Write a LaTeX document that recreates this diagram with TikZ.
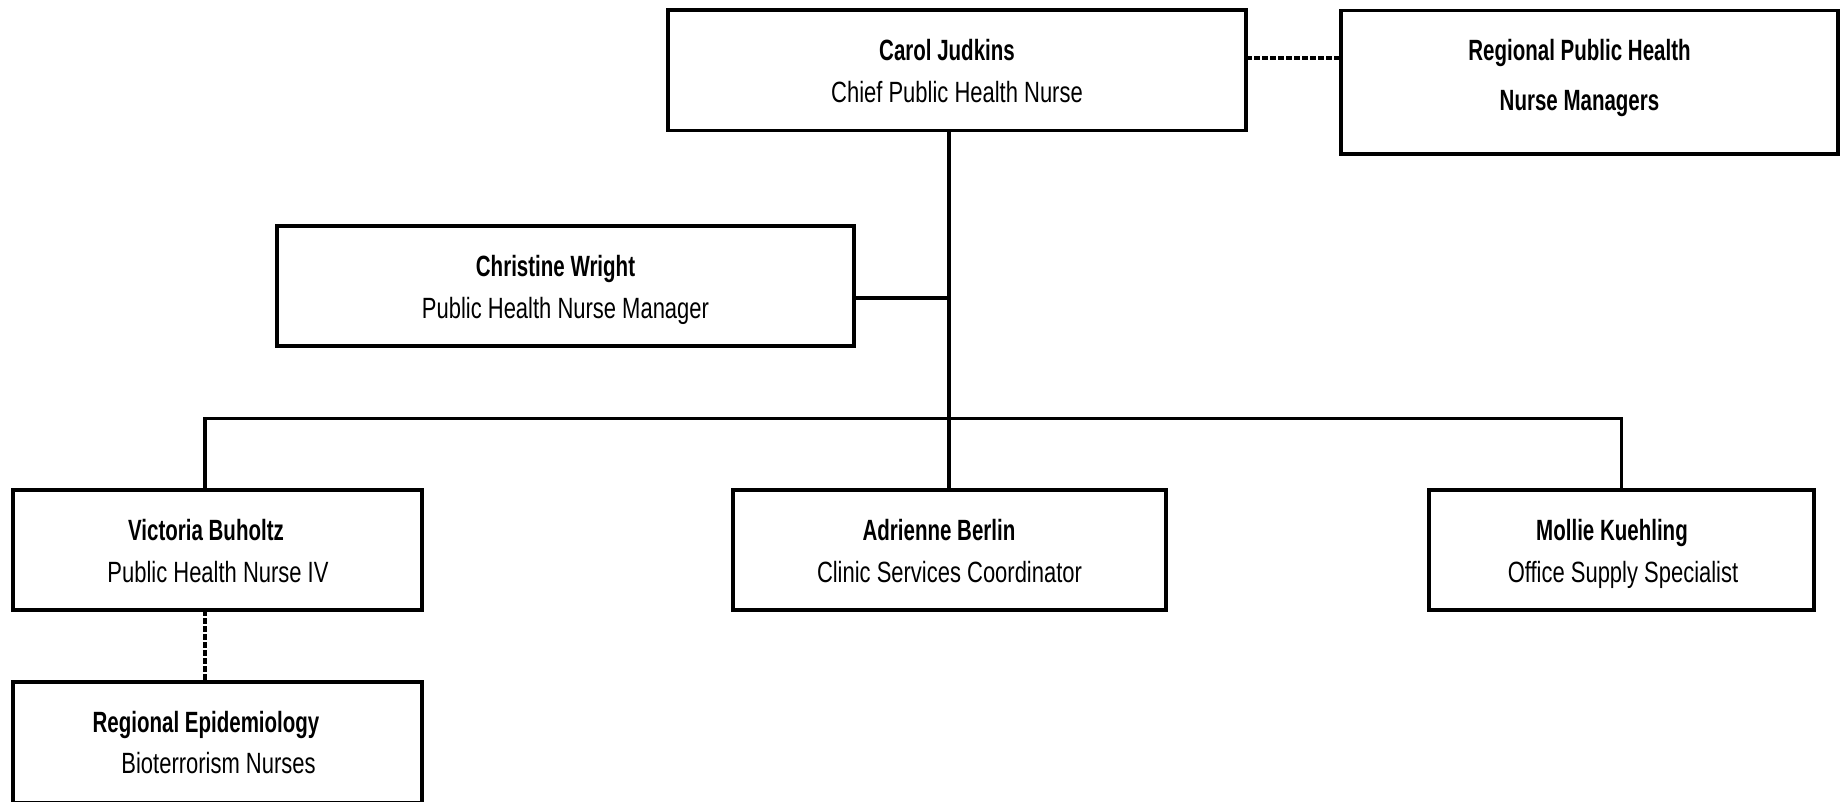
\documentclass[tikz,border=0pt]{standalone}
\usepackage{fontspec}
\newfontfamily\titlefont{Liberation Sans}[FakeStretch=0.75]
\newfontfamily\namefont{Liberation Sans}[FakeStretch=0.70]
\begin{document}
\begin{tikzpicture}[x=1pt,y=-1pt,
  box/.style={draw, line width=3.8pt, rectangle, inner sep=0pt, outer sep=0pt},
  link/.style={line width=3.6pt},
  dotline/.style={line width=3.6pt, dash pattern=on 5.5pt off 2.5pt},
  nameline/.style={anchor=base, inner sep=0pt, font=\namefont\bfseries\fontsize{29.3}{35}\selectfont},
  titleline/.style={anchor=base, inner sep=0pt, font=\titlefont\fontsize{29.3}{35}\selectfont}]
\useasboundingbox (0,0) rectangle (1847,801);

% boxes
\node[box, minimum width=578pt, minimum height=120.5pt] (carol) at (957,70.25) {};
\node[box, minimum width=497pt, minimum height=143.5pt] (regional) at (1589.5,82.25) {};
\node[box, minimum width=577pt, minimum height=120pt] (christine) at (565.5,286) {};
\node[box, minimum width=409pt, minimum height=120pt] (victoria) at (217.2,550) {};
\node[box, minimum width=433pt, minimum height=120pt] (adrienne) at (949.2,550) {};
\node[box, minimum width=384.7pt, minimum height=120pt] (mollie) at (1621.65,550) {};
\node[box, minimum width=409pt, minimum height=121pt] (epi) at (217.2,742.2) {};

% texts
\node[nameline] (carolname) at (947,60.5) {Carol Judkins};
\node[titleline] (caroltitle) at (957,102) {Chief Public Health Nurse};
\node[nameline] (regname) at (1579.5,60.5) {Regional Public Health};
\node[nameline] (regtitle) at (1579.5,110) {Nurse Managers};
\node[nameline] (chrname) at (555.5,276.5) {Christine Wright};
\node[titleline] (chrtitle) at (565.5,318) {Public Health Nurse Manager};
\node[nameline] (vicname) at (206,540.5) {Victoria Buholtz};
\node[titleline] (victitle) at (218,582) {Public Health Nurse IV};
\node[nameline] (adrname) at (939,540.5) {Adrienne Berlin};
\node[titleline] (adrtitle) at (949.5,582) {Clinic Services Coordinator};
\node[nameline] (molname) at (1612,540.5) {Mollie Kuehling};
\node[titleline] (moltitle) at (1623,582) {Office Supply Specialist};
\node[nameline] (epiname) at (206,732) {Regional Epidemiology};
\node[titleline] (epititle) at (218.5,773.5) {Bioterrorism Nurses};

% connectors
\coordinate (dl) at ([yshift=12pt]carol.east);
\draw[dotline] (dl) -- (dl -| regional.west);

\draw[link] (carol.south -| adrienne.north) -- (adrienne.north);

\coordinate (cw) at ([yshift=-12pt]christine.east);
\draw[link] (cw) -- (cw -| adrienne.north);

\coordinate (bus) at (949.2,418.5);
\coordinate (vtop) at ([xshift=-12pt]victoria.north);
\draw[link] (vtop) -- (vtop |- bus) -- (bus -| mollie.north) -- (mollie.north);

\draw[dotline] (vtop |- victoria.south) -- (vtop |- epi.north);
\end{tikzpicture}
\end{document}
